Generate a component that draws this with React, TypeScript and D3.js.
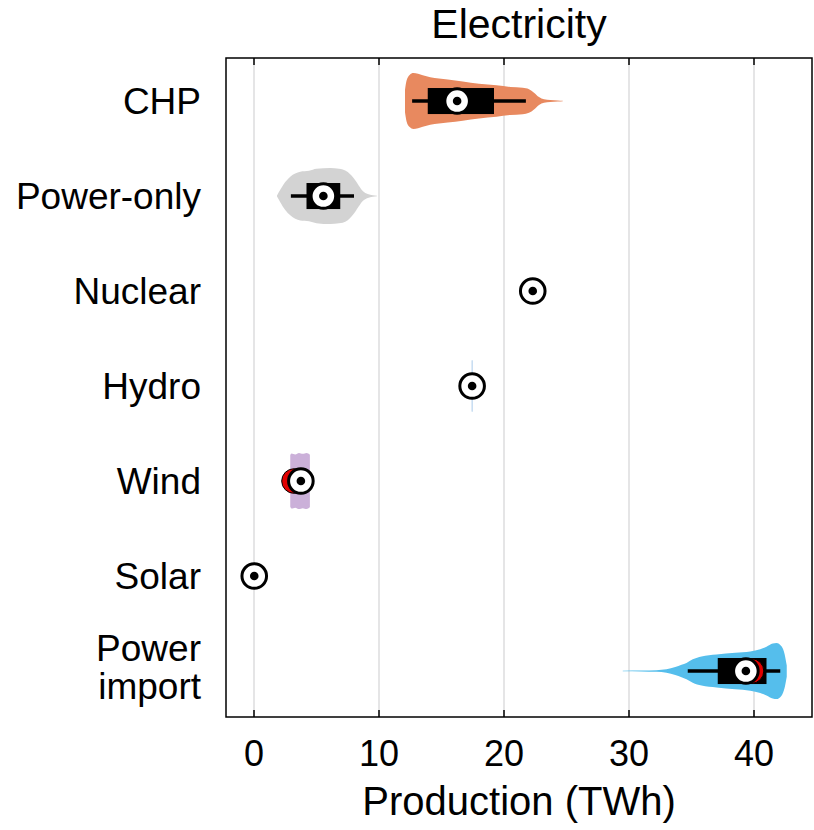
import React from 'react';
import * as d3 from 'd3';

// Categories, top to bottom
const categories: string[][] = [['CHP'], ['Power-only'], ['Nuclear'], ['Hydro'], ['Wind'], ['Solar'], ['Power', 'import']];

// Summary statistics (TWh)
const medians = [16.25, 5.55, 22.3, 17.45, 3.75, 0.02, 39.35];
const means = [16.25, 5.55, 22.3, 17.45, 3.2, 0.02, 39.8];
const q1 = [13.9, 4.2, 22.3, 17.45, 3.35, 0.02, 37.1];
const q3 = [19.2, 6.9, 22.3, 17.45, 4.1, 0.02, 41.0];
const whiskerLow = [12.65, 2.95, 22.3, 17.45, 2.95, 0.02, 34.7];
const whiskerHigh = [21.75, 8.0, 22.3, 17.45, 4.45, 0.02, 42.1];

// Violin outlines: [value (TWh), relative density]
const chpViolin: [number, number][] = [
  [12.08, 0.4], [12.2, 0.72], [12.45, 0.93], [12.75, 1.0], [13.5, 0.92], [14.1, 0.85],
  [15.5, 0.77], [16.7, 0.7], [18.0, 0.62], [19.4, 0.56], [20.5, 0.5], [21.5, 0.47],
  [22.0, 0.42], [22.4, 0.3], [22.8, 0.14], [23.2, 0.06], [23.7, 0.035], [24.3, 0.02], [24.7, 0.01],
];
const powerOnlyViolin: [number, number][] = [
  [1.84, 0.02], [2.1, 0.22], [2.5, 0.5], [2.9, 0.69], [3.7, 0.87], [4.4, 0.9], [5.0, 0.97],
  [6.1, 1.0], [6.8, 0.97], [7.1, 0.95], [7.5, 0.86], [7.8, 0.73], [8.1, 0.56], [8.4, 0.36],
  [8.7, 0.18], [9.1, 0.07], [9.5, 0.03], [9.84, 0.01],
];
const nuclearViolin: [number, number][] = [];
const hydroViolin: [number, number][] = [[17.41, 0.9], [17.45, 0.93], [17.49, 0.9]];
const windViolin: [number, number][] = [
  [2.9, 0.92], [3.0, 0.98], [3.3, 0.95], [3.6, 1.0], [3.9, 0.97], [4.2, 1.0], [4.47, 0.94],
];
const solarViolin: [number, number][] = [];
const importViolin: [number, number][] = [
  [29.5, 0.01], [31.0, 0.015], [32.2, 0.03], [33.0, 0.06], [33.7, 0.14], [34.2, 0.22],
  [34.6, 0.29], [35.1, 0.42], [35.8, 0.52], [37.0, 0.59], [38.5, 0.65], [39.7, 0.7],
  [40.5, 0.78], [41.0, 0.87], [41.5, 0.98], [41.8, 1.0], [42.2, 0.88], [42.45, 0.6], [42.62, 0.2],
];
const violins = [chpViolin, powerOnlyViolin, nuclearViolin, hydroViolin, windViolin, solarViolin, importViolin];
const violinColors = ['#E8895F', '#D3D3D3', '#FFFFFF', '#A9CBEA', '#CBB0D9', '#FFFFFF', '#55BEEC'];

const xTicks = [0, 10, 20, 30, 40];

const FONT = "'Liberation Sans', Arial, Helvetica, sans-serif";
const W = 814;
const H = 830;
const left = 226;
const right = 812;
const top = 58;
const bottom = 717;

export default function App() {
  const x = d3.scaleLinear().domain([-2.24, 44.64]).range([left, right]);
  const y = d3.scaleLinear().domain([0.547, 7.484]).range([top, bottom]);
  const maxHalf = y(1.295) - y(1);
  const boxHalf = y(1.137) - y(1);
  const markerR = 12.3;

  const violinPath = (pts: [number, number][], yc: number) => {
    if (!pts.length) return null;
    return d3
      .area<[number, number]>()
      .x((d) => x(d[0]))
      .y0((d) => yc + d[1] * maxHalf)
      .y1((d) => yc - d[1] * maxHalf)
      .curve(d3.curveMonotoneX)(pts);
  };

  return (
    <svg width={W} height={H} style={{ position: 'absolute', left: 0, top: 0, background: '#fff' }} fontFamily={FONT}>
      <rect x={0} y={0} width={W} height={H} fill="#fff" />
      {/* grid */}
      {xTicks.map((t) => (
        <line key={`g${t}`} x1={x(t)} x2={x(t)} y1={top} y2={bottom} stroke="#DCDCDE" strokeWidth={1.5} />
      ))}
      {categories.map((cat, i) => {
        const yc = y(i + 1);
        const vp = violinPath(violins[i], yc);
        return (
          <g key={cat.join(' ')}>
            {vp && <path d={vp} fill={violinColors[i]} stroke="none" />}
            {whiskerHigh[i] > whiskerLow[i] && (
              <line x1={x(whiskerLow[i])} x2={x(whiskerHigh[i])} y1={yc} y2={yc} stroke="#000" strokeWidth={3.5} />
            )}
            {q3[i] > q1[i] && (
              <rect x={x(q1[i])} y={yc - boxHalf} width={x(q3[i]) - x(q1[i])} height={2 * boxHalf} fill="#000" />
            )}
            <circle cx={x(means[i])} cy={yc} r={markerR} fill="#E00000" stroke="#000" strokeWidth={1} />
            <circle cx={x(medians[i])} cy={yc} r={markerR} fill="#fff" stroke="#000" strokeWidth={3} />
            <circle cx={x(medians[i])} cy={yc} r={4.3} fill="#000" />
            {cat.map((line, j) => (
              <text
                key={line}
                x={201}
                y={yc + 13 + (j - (cat.length - 1) / 2) * 38 - (cat.length > 1 ? 4 : 0)}
                textAnchor="end"
                fontSize={37}
                fill="#000"
              >
                {line}
              </text>
            ))}
          </g>
        );
      })}
      {/* frame and inward ticks */}
      <rect x={left} y={top} width={right - left} height={bottom - top} fill="none" stroke="#000" strokeWidth={1.5} />
      {xTicks.map((t) => (
        <g key={`t${t}`}>
          <line x1={x(t)} x2={x(t)} y1={bottom} y2={bottom - 7} stroke="#000" strokeWidth={1.5} />
          <line x1={x(t)} x2={x(t)} y1={top} y2={top + 7} stroke="#000" strokeWidth={1.5} />
          <text x={x(t)} y={766} textAnchor="middle" fontSize={36} fill="#000">
            {t}
          </text>
        </g>
      ))}
      <text x={(left + right) / 2} y={815} textAnchor="middle" fontSize={40} fill="#000">
        Production (TWh)
      </text>
      <text x={(left + right) / 2} y={38} textAnchor="middle" fontSize={41} fill="#000">
        Electricity
      </text>
    </svg>
  );
}
